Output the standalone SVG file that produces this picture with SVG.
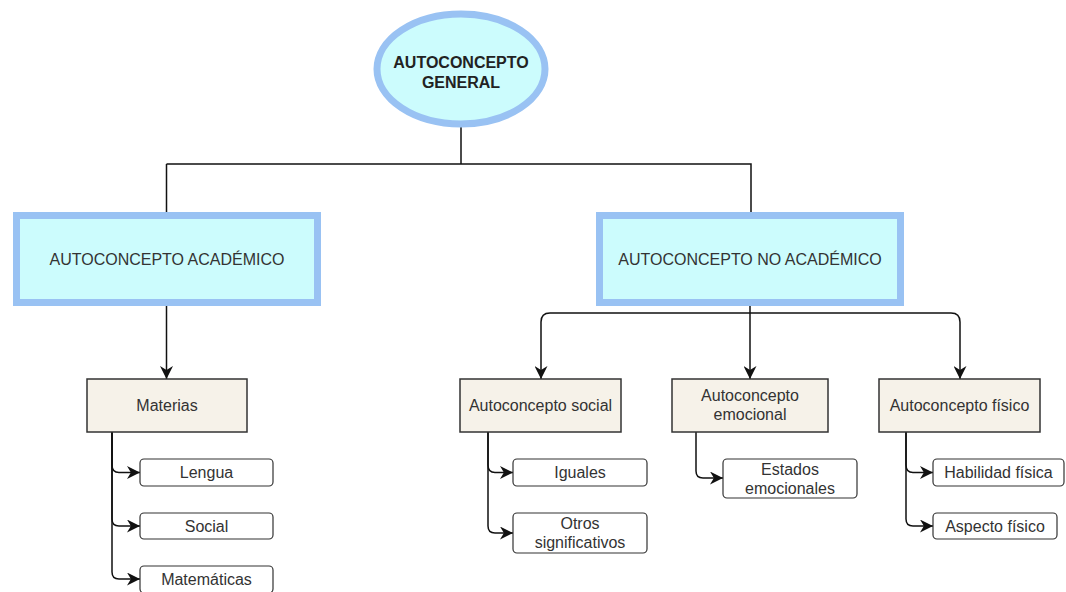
<svg xmlns="http://www.w3.org/2000/svg" width="1066" height="592" viewBox="0 0 1066 592">
<defs>
<style>
.t{font-family:"Liberation Sans",Arial,sans-serif;font-size:16px;fill:#333;text-anchor:middle}
.tb{font-family:"Liberation Sans",Arial,sans-serif;font-size:16px;font-weight:bold;fill:#222;text-anchor:middle}
.big{fill:#ccfcfd;stroke:#99c2f3;stroke-width:7}
.mid{fill:#f6f2e9;stroke:#333;stroke-width:1.5}
.leaf{fill:#fff;stroke:#333;stroke-width:1.2}
.c{fill:none;stroke:#111;stroke-width:1.5}
</style>
<marker id="arr" markerWidth="13" markerHeight="13" refX="10" refY="5" orient="auto" markerUnits="userSpaceOnUse" viewBox="0 0 10 10">
<path d="M0,0 L10,5 L0,10 L3,5 Z" fill="#111"/>
</marker>
</defs>
<rect width="1066" height="592" fill="#fff"/>
<g id="connectors">
<path class="c" d="M461,126 V164 M166.5,164 H461 H751 V212 M166.5,164 V212"/>
<path class="c" d="M166.5,306 V379" marker-end="url(#arr)"/>
<path class="c" d="M750,306 V379" marker-end="url(#arr)"/>
<path class="c" d="M750,313 H550 Q541,313 541,322 V379" marker-end="url(#arr)"/>
<path class="c" d="M750,313 H951 Q960,313 960,322 V379" marker-end="url(#arr)"/>
<path class="c" d="M112,432 V465 Q112,472.5 119,472.5 H140" marker-end="url(#arr)"/>
<path class="c" d="M112,432 V519 Q112,526 119,526 H140" marker-end="url(#arr)"/>
<path class="c" d="M112,432 V572 Q112,579 119,579 H140" marker-end="url(#arr)"/>
<path class="c" d="M488,432 V465 Q488,472.5 495,472.5 H513" marker-end="url(#arr)"/>
<path class="c" d="M488,432 V526 Q488,533 495,533 H513" marker-end="url(#arr)"/>
<path class="c" d="M696,432 V471 Q696,478 703,478 H723" marker-end="url(#arr)"/>
<path class="c" d="M906,432 V465 Q906,472.5 913,472.5 H933" marker-end="url(#arr)"/>
<path class="c" d="M906,432 V519 Q906,526 913,526 H933" marker-end="url(#arr)"/>
</g>
<g id="general">
<ellipse class="big" cx="461" cy="69" rx="84" ry="55"/>
<text class="tb" x="461" y="68">AUTOCONCEPTO</text>
<text class="tb" x="461" y="88">GENERAL</text>
</g>
<g id="academico">
<rect class="big" x="16.5" y="215.5" width="301" height="87"/>
<text class="t" x="167" y="265">AUTOCONCEPTO ACADÉMICO</text>
</g>
<g id="noacademico">
<rect class="big" x="599.5" y="215.5" width="301" height="87"/>
<text class="t" x="750" y="265">AUTOCONCEPTO NO ACADÉMICO</text>
</g>
<g id="materias">
<rect class="mid" x="87" y="379" width="160" height="53"/>
<text class="t" x="167" y="411">Materias</text>
</g>
<g id="social">
<rect class="mid" x="460" y="379" width="161" height="53"/>
<text class="t" x="540.5" y="411">Autoconcepto social</text>
</g>
<g id="emocional">
<rect class="mid" x="672" y="379" width="156" height="53"/>
<text class="t" x="750" y="401">Autoconcepto</text>
<text class="t" x="750" y="420">emocional</text>
</g>
<g id="fisico">
<rect class="mid" x="879" y="379" width="161" height="53"/>
<text class="t" x="959.5" y="411">Autoconcepto físico</text>
</g>
<g id="lengua">
<rect class="leaf" x="140" y="459" width="133" height="27" rx="4"/>
<text class="t" x="206.5" y="478">Lengua</text>
</g>
<g id="social2">
<rect class="leaf" x="140" y="513" width="133" height="26" rx="4"/>
<text class="t" x="206.5" y="532">Social</text>
</g>
<g id="matematicas">
<rect class="leaf" x="140" y="566" width="133" height="27" rx="4"/>
<text class="t" x="206.5" y="585">Matemáticas</text>
</g>
<g id="iguales">
<rect class="leaf" x="513" y="459" width="134" height="27" rx="4"/>
<text class="t" x="580" y="478">Iguales</text>
</g>
<g id="otros">
<rect class="leaf" x="513" y="513" width="134" height="40" rx="4"/>
<text class="t" x="580" y="529">Otros</text>
<text class="t" x="580" y="548">significativos</text>
</g>
<g id="estados">
<rect class="leaf" x="723" y="459" width="134" height="39" rx="4"/>
<text class="t" x="790" y="475">Estados</text>
<text class="t" x="790" y="494">emocionales</text>
</g>
<g id="habilidad">
<rect class="leaf" x="933" y="459" width="131" height="27" rx="4"/>
<text class="t" x="998.5" y="478">Habilidad física</text>
</g>
<g id="aspecto">
<rect class="leaf" x="933" y="513" width="124" height="26" rx="4"/>
<text class="t" x="995" y="532">Aspecto físico</text>
</g>
</svg>
